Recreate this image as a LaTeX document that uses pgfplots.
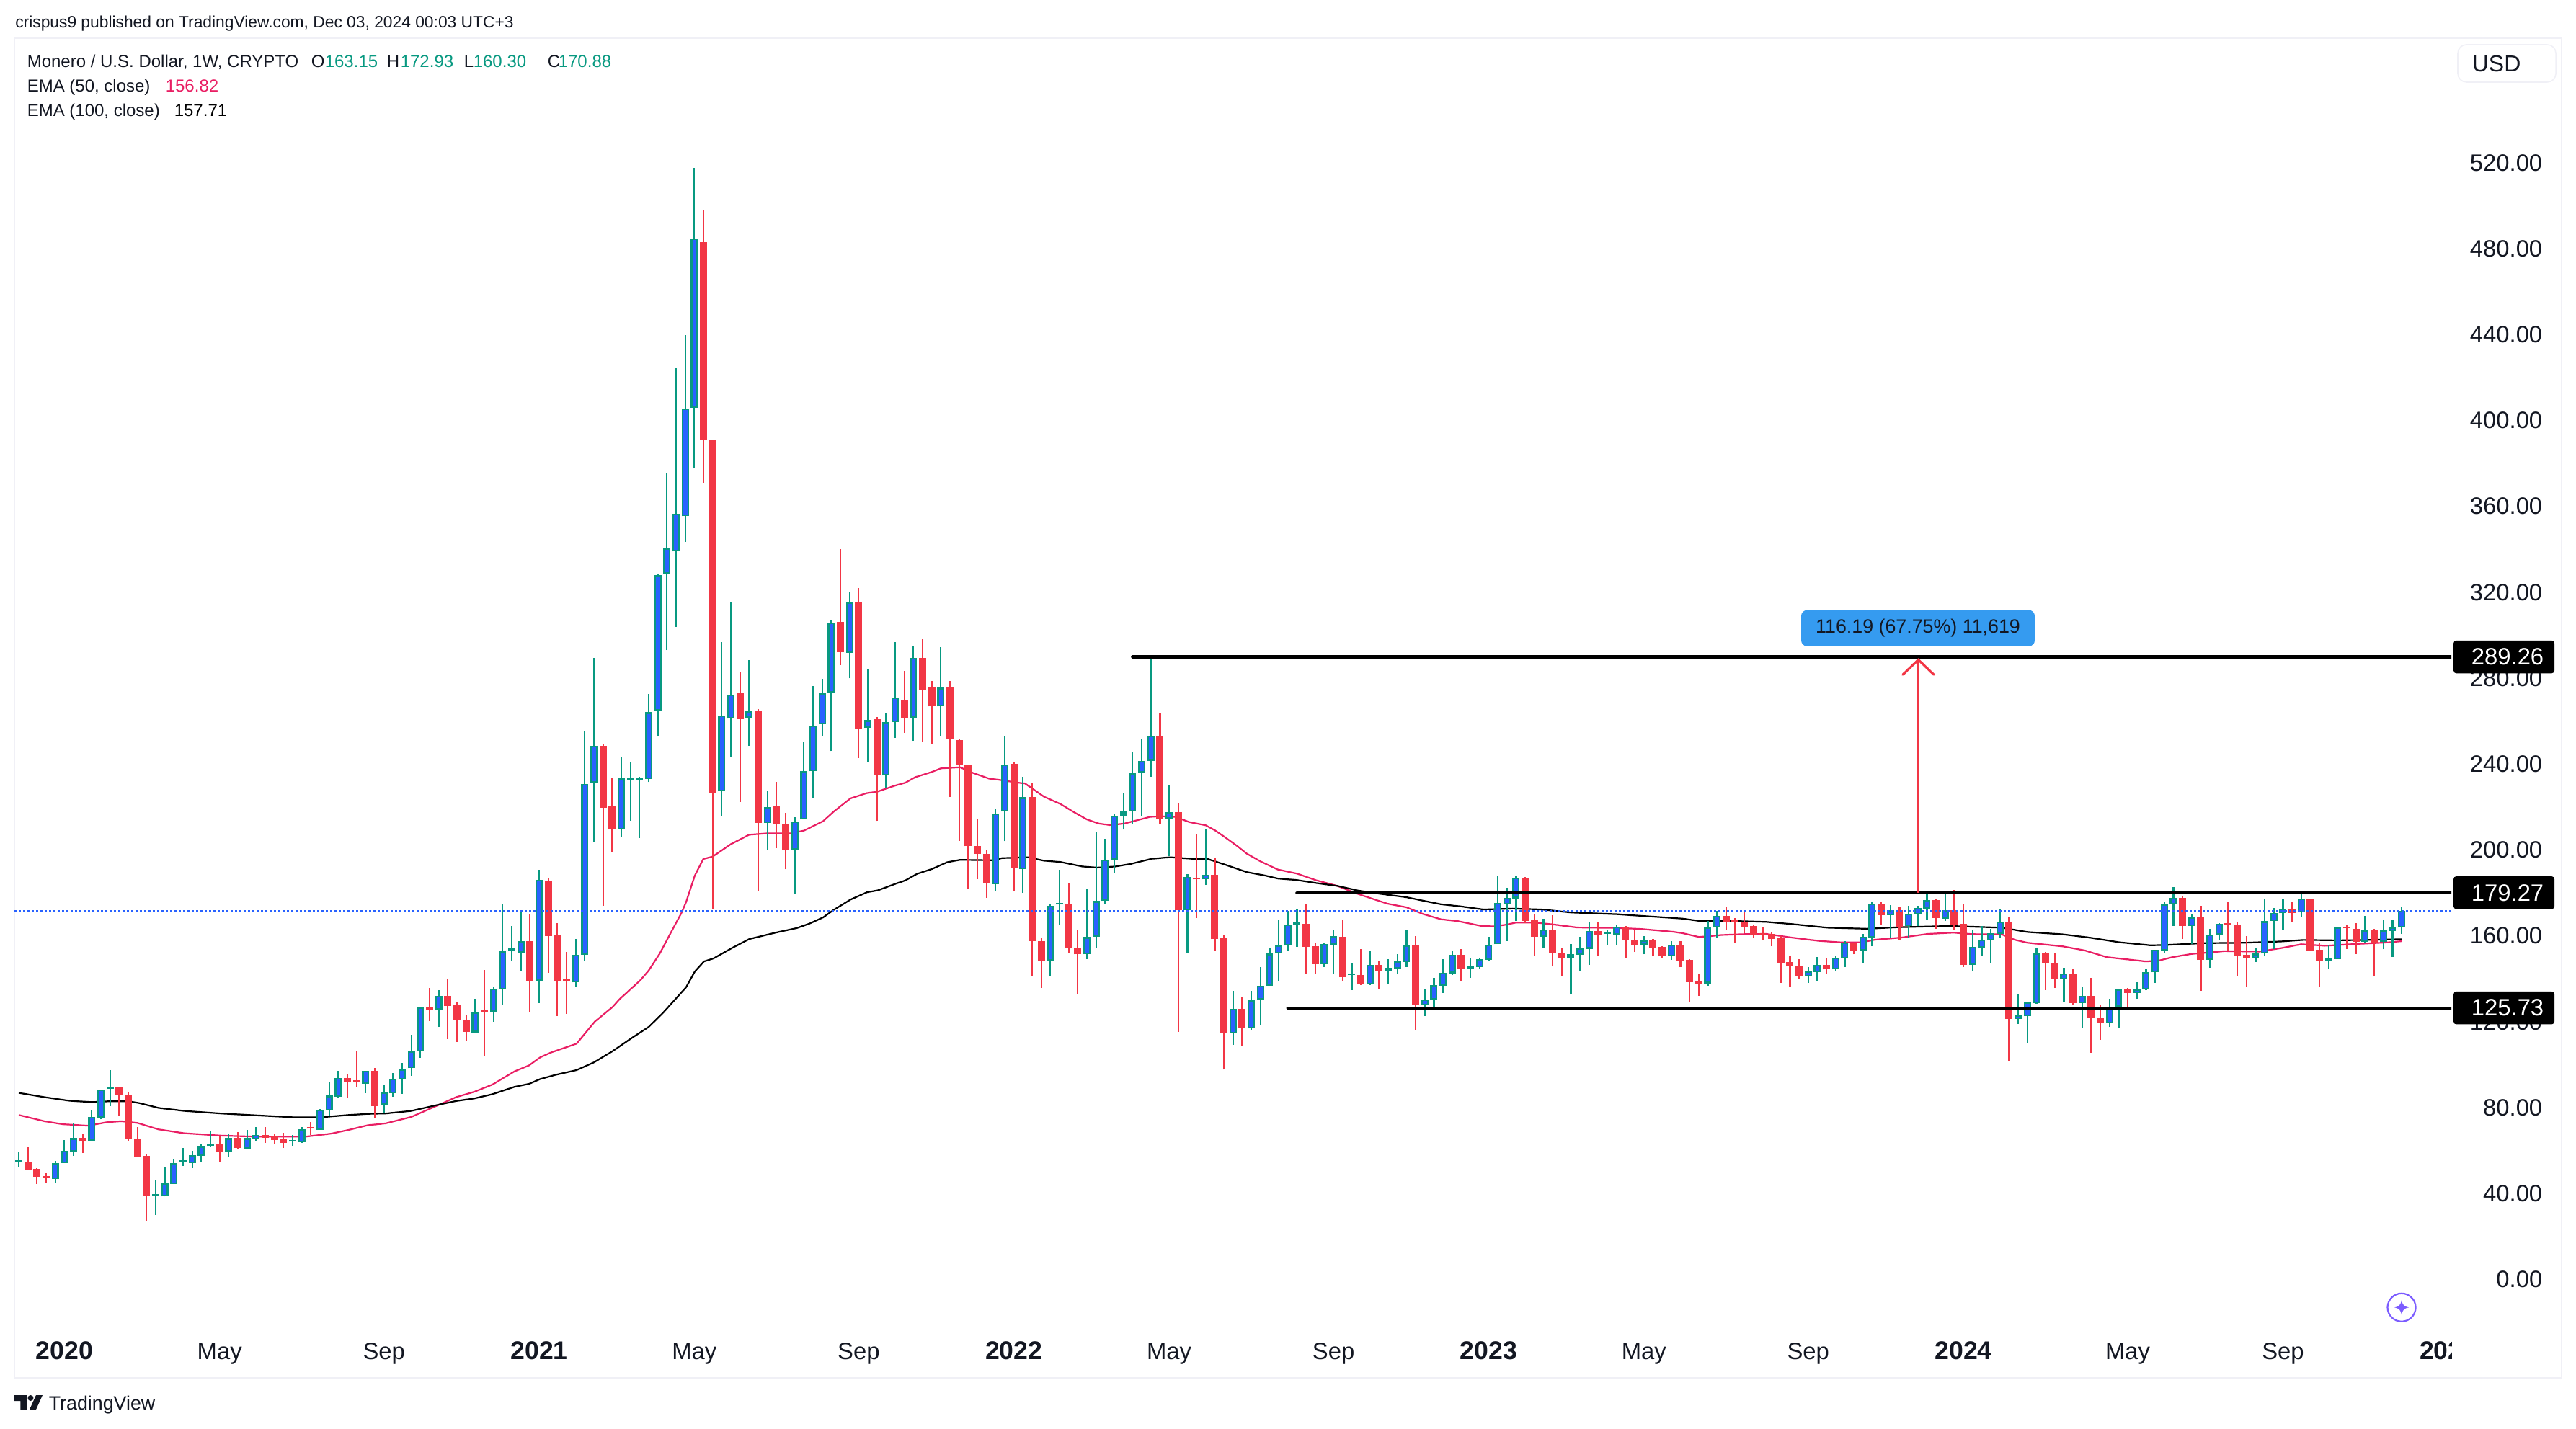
\documentclass[border=0pt]{standalone}
\usepackage{fontspec}
\setmainfont{Liberation Sans}
\usepackage{pgfplots}
\usepackage{pgfplotstable}
\pgfplotsset{compat=1.18}

\definecolor{tvred}{HTML}{F23645}
\definecolor{tvteal}{HTML}{089981}
\definecolor{tvblue}{HTML}{2962FF}
\definecolor{tvink}{HTML}{131722}
\definecolor{tvpink}{HTML}{E91E63}
\definecolor{tvframe}{HTML}{F0F0F6}
\definecolor{tvbadge}{HTML}{359BF0}
\definecolor{tvstar}{HTML}{7B5CFF}

% weekly candles, i is the week number from the left edge
\pgfplotstableread{
i o h l c
0 54.0 58.55 51.95 54.4
4 46.25 54.4 44.6 53.4
5 53.6 64.2 53.6 59.1
6 59.0 71.9 57.0 65.1
8 64.0 78.0 63.7 74.9
9 74.8 87.8 73.8 87.6
10 87.9 96.8 80.1 88.3
15 38.3 45.8 29.5 38.8
16 37.9 51.7 37.9 44.0
17 43.9 55.5 43.9 53.4
18 54.0 60.6 52.3 54.4
19 53.6 59.2 51.2 57.1
20 57.0 62.5 54.2 61.4
21 61.4 68.6 61.3 62.5
23 59.0 67.2 56.3 65.1
25 60.3 69.0 60.3 65.1
26 64.7 70.3 63.6 66.5
30 63.4 66.6 61.6 63.9
31 63.3 70.2 63.0 69.2
33 69.1 78.6 69.1 78.2
34 78.1 91.4 75.2 84.9
35 84.5 96.5 84.2 93.0
38 90.5 96.5 86.2 96.4
40 80.6 90.1 76.9 86.3
41 86.0 95.5 84.5 92.7
42 92.3 100.2 85.8 97.0
43 97.7 113.2 94.2 105.4
44 105.4 125.9 102.6 125.9
46 124.8 134.0 116.9 131.3
50 114.4 130.0 114.0 123.5
52 123.8 135.7 119.4 134.7
53 134.2 174.3 127.3 152.0
54 152.5 163.9 147.5 152.8
55 151.6 171.2 142.9 156.8
57 138.2 190.0 128.1 185.3
61 137.6 157.8 135.7 150.4
62 150.5 254.5 147.5 229.9
63 230.7 288.8 203.2 247.9
66 208.8 242.7 205.5 232.8
67 232.0 239.9 213.0 232.3
68 232.0 233.3 204.8 232.3
69 232.3 272.1 230.9 263.4
70 264.1 327.9 252.1 327.2
71 327.9 374.5 292.4 339.7
72 338.3 423.7 303.2 355.7
73 354.7 439.0 342.7 404.9
74 405.1 516.9 376.9 484.0
77 226.7 296.1 215.4 262.0
78 260.4 315.0 242.7 271.7
80 260.8 287.7 247.9 263.9
82 211.9 226.9 199.4 219.4
85 199.4 214.6 178.9 212.7
86 213.5 249.5 213.5 235.9
87 235.9 275.7 223.6 257.1
88 257.8 278.9 252.6 272.4
89 272.6 306.5 245.3 305.1
91 291.2 319.2 279.2 314.7
93 256.1 283.7 240.4 259.7
95 233.9 263.2 228.4 258.7
96 258.7 296.2 251.5 270.2
98 260.8 294.5 250.1 288.8
101 266.1 293.8 252.5 274.8
107 183.4 218.7 180.0 216.4
108 217.1 252.5 203.4 239.2
110 190.4 233.4 179.3 223.8
113 147.6 174.3 140.9 173.4
114 173.9 190.0 164.7 174.3
117 150.7 181.0 148.6 158.7
118 158.9 207.9 153.4 175.5
119 175.5 204.6 174.1 194.7
120 194.7 215.9 188.3 215.4
121 215.4 225.7 208.7 217.1
122 217.1 245.2 211.5 235.2
123 235.2 250.7 215.2 240.9
124 240.9 288.8 233.5 252.4
126 213.7 229.3 196.6 216.8
128 171.4 188.2 151.4 186.6
130 185.6 209.2 183.0 187.7
133 114.0 133.7 108.6 125.2
135 116.3 133.7 115.1 129.3
136 129.6 144.9 117.6 136.0
137 136.0 153.8 136.0 151.0
138 151.1 166.6 138.2 154.7
139 154.7 170.9 152.2 164.5
140 164.7 172.0 154.2 165.0
143 146.2 156.1 144.8 155.4
144 155.3 161.9 141.8 159.1
146 141.0 146.5 134.1 141.3
148 136.7 152.5 136.4 145.7
150 142.9 148.5 137.1 144.3
151 144.2 150.8 141.4 147.3
152 147.2 161.9 144.8 154.7
154 127.0 134.7 122.0 129.6
155 129.6 139.8 125.3 136.3
156 136.2 148.5 132.7 142.0
157 141.9 152.2 141.1 150.4
159 143.8 148.8 139.8 145.0
160 144.9 149.2 143.8 148.4
161 148.2 158.9 147.5 155.1
162 155.4 187.4 156.9 174.5
163 174.0 181.6 156.9 176.9
164 176.8 187.1 166.2 186.3
167 158.9 167.3 153.8 162.1
170 149.2 155.5 132.0 150.8
171 150.5 158.9 142.8 153.5
172 153.3 165.9 145.8 161.6
174 160.1 162.2 154.9 160.6
175 160.0 164.5 155.2 163.6
178 155.2 159.2 150.8 157.2
181 149.9 156.9 148.1 155.1
185 137.2 166.3 136.1 163.1
186 163.1 171.0 158.5 168.5
196 140.5 144.9 137.4 142.7
197 142.5 149.6 138.1 145.7
199 143.6 149.8 143.2 149.0
200 148.9 156.9 144.8 156.2
202 152.3 160.2 146.8 158.8
203 158.6 175.0 154.5 174.2
205 169.0 173.6 158.2 171.2
207 164.0 173.3 158.2 169.5
208 169.4 173.4 163.9 172.2
209 172.1 178.6 166.9 175.9
211 167.4 179.4 166.2 171.2
214 145.9 162.2 142.8 154.2
215 153.9 163.9 149.8 157.5
216 157.3 162.6 146.5 160.6
217 160.3 171.9 158.2 165.9
219 120.6 132.0 118.3 122.3
220 122.0 128.7 109.5 128.3
221 128.0 153.5 127.7 151.2
224 139.1 144.5 128.7 141.8
226 128.0 135.4 116.6 131.4
229 118.6 130.0 116.9 126.2
230 126.2 134.7 116.2 134.3
232 132.8 137.7 130.0 134.3
233 134.3 143.8 134.0 142.3
234 142.3 152.8 137.4 152.7
235 152.6 175.3 151.5 173.9
236 173.8 182.0 163.9 176.9
238 164.0 169.6 155.5 167.8
240 148.2 162.6 144.5 159.8
241 159.7 165.2 157.2 164.8
245 148.8 153.5 147.1 151.0
246 151.0 176.4 149.8 166.1
247 166.3 172.3 153.3 169.8
248 169.8 176.7 162.2 171.9
250 170.2 178.7 167.9 176.6
253 147.5 154.9 143.8 148.7
254 148.5 163.6 148.5 163.2
257 156.5 168.5 156.2 161.9
259 156.4 166.7 153.0 161.9
260 161.6 166.7 149.5 163.2
261 163.15 172.93 160.30 170.88
}\upweeks

\pgfplotstableread{
i o h l c
1 54.2 61.1 50.6 50.6
2 50.8 51.2 43.9 47.25
3 47.5 48.7 44.6 46.6
7 65.1 66.9 58.2 63.4
11 88.7 89.0 75.4 85.5
12 85.3 86.4 63.7 64.7
13 64.5 70.3 56.3 56.3
14 56.9 57.9 26.4 38.2
22 62.1 66.0 54.2 58.5
24 65.1 68.0 60.2 60.7
27 66.5 70.3 62.9 65.4
28 66.0 66.9 62.4 64.4
29 64.6 67.6 60.6 62.9
32 69.9 72.5 66.6 69.5
36 93.0 95.1 84.2 91.2
37 91.5 105.9 89.2 91.2
39 96.5 97.7 74.4 80.1
45 125.9 135.0 119.7 124.8
47 131.3 139.4 111.3 126.8
48 126.9 128.3 109.9 120.1
49 120.2 122.2 110.6 114.7
51 124.4 143.4 103.3 123.9
56 156.8 169.3 124.0 138.1
58 184.6 186.3 142.1 159.2
59 159.4 165.3 122.0 137.9
60 138.6 151.8 123.1 138.2
64 247.9 248.8 173.2 218.9
65 219.6 232.8 198.4 208.8
75 482.3 497.2 370.3 390.1
76 390.1 390.1 171.8 226.1
79 272.6 282.5 221.5 260.1
81 263.9 264.8 180.3 211.9
83 219.6 230.9 200.3 211.2
84 211.6 216.6 190.3 199.4
90 305.5 339.4 285.3 291.4
92 315.0 321.3 242.0 255.9
94 260.1 261.3 212.8 234.0
97 269.2 282.7 253.9 260.6
99 288.8 297.4 249.8 274.1
100 274.8 278.0 248.9 266.1
102 274.8 278.0 224.1 251.0
103 250.5 251.2 203.4 238.7
104 239.0 239.0 181.0 201.0
105 201.0 213.8 185.8 197.6
106 197.6 199.0 177.0 183.9
109 239.4 239.9 180.0 190.9
111 224.0 230.6 140.9 156.7
112 156.8 158.2 134.9 147.6
115 174.0 183.7 151.4 153.6
116 153.9 162.0 132.5 150.7
125 252.4 263.0 211.3 213.7
127 216.8 221.0 114.5 171.4
129 186.3 206.8 167.6 185.6
131 187.7 195.3 152.2 157.7
132 158.2 159.9 97.0 114.0
134 125.2 130.6 108.2 116.3
141 164.8 174.3 141.8 154.3
142 154.5 155.9 141.4 146.2
145 158.9 166.9 138.1 140.2
147 141.0 153.2 136.4 136.7
149 145.7 147.8 134.7 142.9
153 154.7 159.2 115.6 127.0
158 150.4 153.2 138.4 143.8
165 186.1 186.7 165.4 166.2
166 166.6 169.3 150.2 158.9
168 162.2 168.9 145.1 151.2
169 151.5 153.5 140.8 149.2
173 161.6 165.6 149.8 159.9
176 163.6 163.9 149.2 157.2
177 157.5 162.2 151.8 155.2
179 157.2 157.9 149.8 153.8
180 154.2 154.5 149.2 149.8
182 155.1 156.9 144.8 147.9
183 148.1 148.5 128.7 137.8
184 138.0 141.8 131.4 137.2
187 168.5 172.6 161.9 165.6
188 166.2 167.6 155.9 165.7
189 165.6 170.3 160.6 163.6
190 163.9 164.5 158.2 160.0
191 160.3 163.6 157.2 159.7
192 160.2 160.9 154.5 157.9
193 158.2 159.2 137.4 146.9
194 147.1 150.2 135.7 145.1
195 145.5 148.5 139.1 140.5
198 145.7 148.8 141.4 143.6
201 156.2 156.2 150.8 152.2
204 174.2 175.3 164.6 168.9
206 171.3 173.0 157.5 163.6
210 176.0 176.6 162.6 167.6
212 171.2 180.7 162.2 164.6
213 164.9 174.3 144.9 145.9
218 165.9 168.3 101.2 120.6
222 151.2 151.8 134.1 146.5
223 146.8 151.2 135.1 139.1
225 141.8 143.8 127.0 128.0
227 131.4 139.8 104.9 121.0
228 121.3 127.3 110.9 118.6
231 134.3 135.1 126.3 132.8
237 177.0 177.9 157.9 163.9
239 167.8 173.2 133.7 148.1
242 165.0 175.3 152.2 164.4
243 164.6 165.6 140.8 150.1
244 150.5 159.2 135.7 148.8
249 171.9 175.3 165.9 170.0
251 176.6 176.7 152.2 152.5
252 152.8 155.7 135.4 147.5
255 163.4 164.5 153.2 162.8
256 162.6 165.3 150.9 156.5
258 161.9 162.5 140.4 156.2
}\downweeks

% EMA 50
\pgfplotstableread{
i v
0 75.9
2.8 73.0
4.8 71.6
7.6 70.9
9.6 72.5
11.2 73.0
13 72.2
15.3 69.2
18.1 67.4
22.1 66.3
26.1 65.8
31.4 65.8
34.2 67.2
36.2 69.0
38.2 71.1
40.2 72.0
43 75.0
45.9 80.4
47.9 84.2
49.9 86.7
51.9 90.1
54.3 96.2
55.9 99.0
57.1 102.7
58.3 105.0
61.1 109.1
63.1 119.4
65.05 126.2
65.8 129.8
68.1 138.7
69 143.2
70.2 151.0
71.4 160.6
72.6 170.1
73.1 175.1
74.05 187.4
74.98 195.1
76 196.2
78 202.0
80 206.4
81.9 207.0
84.5 207.0
86 208.3
88.1 212.7
89.3 217.3
91.1 223.3
92.9 225.8
94 226.4
96 229.3
97.1 230.6
98.2 233.2
100 235.6
101 237.3
103.1 237.8
104.5 235.2
106.3 232.5
107.3 232.0
109.5 230.6
110.2 230.3
112.3 224.1
114.1 220.7
115.5 217.1
117 213.5
118.3 211.6
119.5 210.9
121.1 211.6
123.9 214.7
125.1 215.0
126.7 214.7
128.2 212.3
130 210.8
131 208.5
132.1 205.3
133.5 201.0
134.5 197.6
136 194.0
137.9 190.2
140 188.3
142.1 185.2
144.4 182.6
146.7 178.8
149.9 174.3
152 172.6
153.8 169.5
155.8 167.0
157.6 166.2
160.1 164.0
161.5 163.7
162.9 164.5
164 165.5
166.1 165.5
167.9 164.7
170.7 163.2
175 163.0
177.7 162.5
181.2 161.2
182.3 160.5
184 158.8
185.1 159.1
186.5 159.7
189 160.1
191.4 160.2
194.2 158.5
197.1 157.0
199.5 156.3
201.9 156.3
203.3 157.5
206.2 158.5
209.1 160.2
211.9 160.8
213.9 160.1
217.2 160.0
218.6 157.5
220 156.1
223.9 154.4
226.3 152.5
228.7 149.4
233 147.4
234.4 147.8
235.9 149.4
238 150.9
241.6 152.2
245.4 152.0
247.8 153.6
250 155.4
252.6 154.7
255.9 155.5
259.3 156.2
261 156.82
}\emafifty

% EMA 100
\pgfplotstableread{
i v
0 86.2
2.8 84.2
5.6 82.5
8 81.9
10 82.3
12 82.3
13.25 81.4
15.3 79.2
18.1 77.8
22.1 76.6
26.1 75.7
30.2 74.8
33 74.8
36.2 75.9
38.2 76.4
40.2 76.6
43 77.8
45.9 80.6
47.9 82.4
49.9 83.6
51.9 85.6
54.3 89.0
55.9 90.4
57.1 92.6
58.8 94.6
61.1 96.8
63 100.4
65 105.5
67.2 111.9
69 116.9
70.6 123.6
73.1 135.4
74.05 142.7
75.05 147.4
76.1 148.8
78.1 153.6
80 157.8
83 160.9
85.2 162.9
86.6 165.0
88.1 167.9
89.3 171.5
91.1 176.2
92.9 179.6
94.1 180.5
96 183.5
97.1 185.1
98.4 188.2
100 190.4
101.7 193.6
103.1 194.7
106.7 194.5
107.7 195.5
110.5 195.9
112.3 194.3
114.1 193.7
116.5 191.6
118.1 191.1
120.1 191.6
121.8 192.8
124.1 195.2
126.1 195.9
128.5 195.2
130.3 195.0
132.1 192.5
134.5 189.0
136.5 187.4
137.9 186.0
140 185.3
142.1 183.9
144.4 182.6
146.7 180.4
149.1 178.9
152 177.3
153.8 175.7
155.8 174.0
158 173.0
160.4 171.6
163.6 172.0
166.8 171.6
170 170.2
175 169.4
180.6 167.8
182.3 167.3
184 166.3
187.3 166.3
191.4 165.8
194.2 164.8
198.1 163.1
202.4 162.6
205.8 163.3
211.5 163.9
217.2 163.1
220 161.1
223.9 160.0
226.8 158.5
230.1 156.3
233.5 154.9
235.4 155.1
239.2 155.9
243.9 156.1
247.8 156.7
250.2 157.4
254 157.2
261 157.71
}\emahundred

\pgfplotsset{
	candle/.style n args={2}{
		draw=none, mark=none, forget plot,
		error bars/.cd, y dir=plus, y explicit, error mark=none,
		error bar style={line width=#1, draw=#2, solid},
	},
}
\newcommand{\axisfont}{\fontsize{8.2}{10}\selectfont}
\newcommand{\yr}[1]{{\fontsize{8.9}{10}\selectfont\bfseries #1}}

\begin{document}
\begin{tikzpicture}
	\path[use as bounding box] (-5pt,-17.5pt) rectangle (888.5pt,478pt);
	\draw[tvframe, line width=0.6pt] (0,0) rectangle (883.5pt,464.75pt);
	\begin{axis}[
		width=845.25pt,
		height=464.75pt,
		scale only axis,
		xmin=-0.474,
		xmax=266.44,
		ymin=-46.5,
		ymax=577.3,
		axis line style={draw=none},
		major tick length=0pt,
		xtick={5,22,40,57,74,92,109,126,144,161,178,196,213,231,248,266.1},
		xticklabels={\yr{2020},May,Sep,\yr{2021},May,Sep,\yr{2022},May,Sep,\yr{2023},May,Sep,\yr{2024},May,Sep,\yr{2025}},
		xticklabel style={font=\axisfont, text=tvink, anchor=base, inner sep=0pt, yshift=6.5pt},
		ytick={0,40,...,520},
		yticklabel pos=right,
		yticklabel style={font=\axisfont, text=tvink, anchor=east, inner sep=0pt, xshift=31.75pt, yshift=-0.5pt,
			/pgf/number format/.cd, fixed, fixed zerofill, precision=2, assume math mode=true},
		scaled y ticks=false,
	]
		% moving averages sit under the candles
		\addplot[tvpink, line width=0.55pt] table[x=i,y=v] {\emafifty};
		\addplot[black, line width=0.55pt] table[x=i,y=v] {\emahundred};

		% wicks
		\addplot[candle={0.55pt}{tvteal}] table[x=i,y=l,y error plus expr=\thisrow{h}-\thisrow{l},y error minus expr=0] {\upweeks};
		\addplot[candle={0.55pt}{tvred}] table[x=i,y=l,y error plus expr=\thisrow{h}-\thisrow{l},y error minus expr=0] {\downweeks};
		% bodies
		\addplot[candle={2.5pt}{tvteal}] table[x=i,y=o,y error plus expr={max(\thisrow{c}-\thisrow{o},0.9)},y error minus expr=0] {\upweeks};
		\addplot[candle={1.4pt}{tvblue}] table[x=i,y expr=\thisrow{o}+0.7,y error plus expr={max(\thisrow{c}-\thisrow{o}-1.4,0)},y error minus expr=0] {\upweeks};
		\addplot[candle={2.5pt}{tvred}] table[x=i,y=c,y error plus expr={max(\thisrow{o}-\thisrow{c},0.9)},y error minus expr=0] {\downweeks};

		% last price
		\addplot[tvblue, line width=0.5pt, dash pattern=on 0.72pt off 0.78pt] coordinates {(-0.474,170.88) (266.44,170.88)};

		% drawn levels
		\addplot[black, line width=1.1pt, line cap=round] coordinates {(122,289.26) (266.44,289.26)};
		\addplot[black, line width=1.1pt, line cap=round] coordinates {(140,179.27) (266.44,179.27)};
		\addplot[black, line width=1.1pt, line cap=round] coordinates {(139,125.73) (266.44,125.73)};

		% target arrow
		\addplot[tvred, line width=0.8pt] coordinates {(208.06,179.27) (208.06,287.9)};
		\addplot[tvred, line width=0.8pt, line cap=round, line join=miter] coordinates {(206.35,280.9) (208.06,287.9) (209.77,280.9)};
	\end{axis}

	% everything below is placed in reference pixels
	\begin{scope}[shift={(-5pt,478pt)}, x=0.25pt, y=-0.25pt, font=\fontsize{6}{7}\selectfont, text=tvink]
		% hides the end of the cut-off year label
		\fill[white] (3402,1845) rectangle (3450,1900);

		\node[anchor=base west, inner sep=0pt, font=\fontsize{5.7}{7}\selectfont] at (20.5,39) {crispus9 published on TradingView.com, Dec 03, 2024 00:03 UTC+3};
		\node[anchor=base west, inner sep=0pt] at (37,94) {Monero / U.S. Dollar, 1W, CRYPTO};
		\node[anchor=base west, inner sep=0pt] at (431,94) {O};
		\node[anchor=base west, inner sep=0pt, text=tvteal] at (450,94) {163.15};
		\node[anchor=base west, inner sep=0pt] at (536,94) {H};
		\node[anchor=base west, inner sep=0pt, text=tvteal] at (555,94) {172.93};
		\node[anchor=base west, inner sep=0pt] at (643,94) {L};
		\node[anchor=base west, inner sep=0pt, text=tvteal] at (656,94) {160.30};
		\node[anchor=base west, inner sep=0pt] at (759,94) {C};
		\node[anchor=base west, inner sep=0pt, text=tvteal] at (774,94) {170.88};
		\node[anchor=base west, inner sep=0pt] at (37,128) {EMA (50, close)};
		\node[anchor=base west, inner sep=0pt, text=tvpink] at (229,128) {156.82};
		\node[anchor=base west, inner sep=0pt] at (37,162) {EMA (100, close)};
		\node[anchor=base west, inner sep=0pt, text=black] at (241,162) {157.71};

		% currency button
		\draw[tvframe, line width=0.4pt, rounded corners=3pt] (3410,62) rectangle (3546,114);
		\node[anchor=base west, inner sep=0pt, font=\fontsize{8}{10}\selectfont] at (3429,99.3) {USD};

		% price tags
		\foreach \yy/\tag in {911.6/289.26, 1238.8/179.27, 1398.7/125.73} {
			\fill[black, rounded corners=1pt] (3404,\yy-22.8) rectangle (3544,\yy+22.8);
			\node[anchor=east, inner sep=0pt, text=white, font=\axisfont] at (3530,\yy) {\tag};
		}

		% measure badge
		\fill[tvbadge, rounded corners=2pt] (2499,846.7) rectangle (2823,896.7);
		\node[inner sep=0pt, text=tvink, font=\fontsize{6.7}{8}\selectfont] at (2661,872) {116.19 (67.75\%) 11,619};

		% assistant button
		\draw[tvstar, line width=0.55pt] (3332,1814.3) circle (19.5);
		\fill[tvstar] (3332,1804) .. controls (3333.5,1811) and (3335,1812.8) .. (3342,1814.3)
			.. controls (3335,1815.8) and (3333.5,1817.6) .. (3332,1824.6)
			.. controls (3330.5,1817.6) and (3329,1815.8) .. (3322,1814.3)
			.. controls (3329,1812.8) and (3330.5,1811) .. (3332,1804) -- cycle;

		% logo and name
		\fill[tvink] (20,1936) -- (37,1936) -- (37,1956) -- (28.5,1956) -- (28.5,1944) -- (20,1944) -- cycle;
		\fill[tvink] (42.5,1940) circle (4);
		\fill[tvink] (50,1936) -- (59,1936) -- (50,1956) -- (41,1956) -- cycle;
		\node[anchor=base west, inner sep=0pt, font=\fontsize{6.7}{8}\selectfont] at (67,1956) {TradingView};
	\end{scope}
\end{tikzpicture}
\end{document}
